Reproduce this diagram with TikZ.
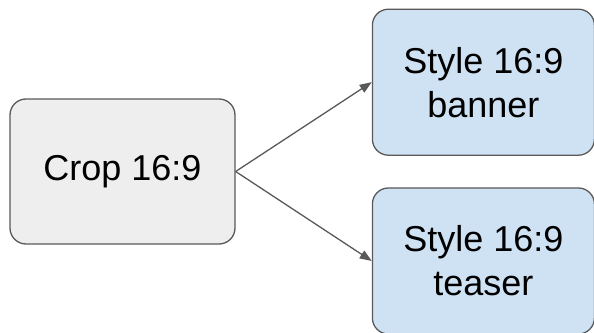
\documentclass[tikz,border=0pt]{standalone}
\usepackage{fontspec}
\setmainfont{Liberation Sans}
\usetikzlibrary{arrows.meta}
\definecolor{edgegray}{HTML}{595959}
\definecolor{boxgray}{HTML}{EEEEEE}
\definecolor{boxblue}{HTML}{CFE2F3}
\tikzset{
  box/.style={draw=edgegray, line width=1.3pt, rounded corners=16pt, align=center,
    font=\fontsize{36}{44}\selectfont, text=black, inner sep=0pt},
  graybox/.style={box, fill=boxgray, minimum width=225pt, minimum height=145pt},
  bluebox/.style={box, fill=boxblue, minimum width=222pt, minimum height=146pt},
  conn/.style={draw=edgegray, line width=1.3pt, -{Triangle[length=12pt,width=9pt]}}
}
\begin{document}
\begin{tikzpicture}[x=1pt,y=1pt]
\useasboundingbox (0,0) rectangle (594,332);
\node[graybox] (crop) at (122.5,160.5) {Crop 16:9};
\node[bluebox] (banner) at (483.4,249.8) {Style 16:9\\banner};
\node[bluebox] (teaser) at (483.4,71) {Style 16:9\\teaser};
\draw[conn] (crop.east) -- (banner.west);
\draw[conn] (crop.east) -- (teaser.west);
\end{tikzpicture}
\end{document}
